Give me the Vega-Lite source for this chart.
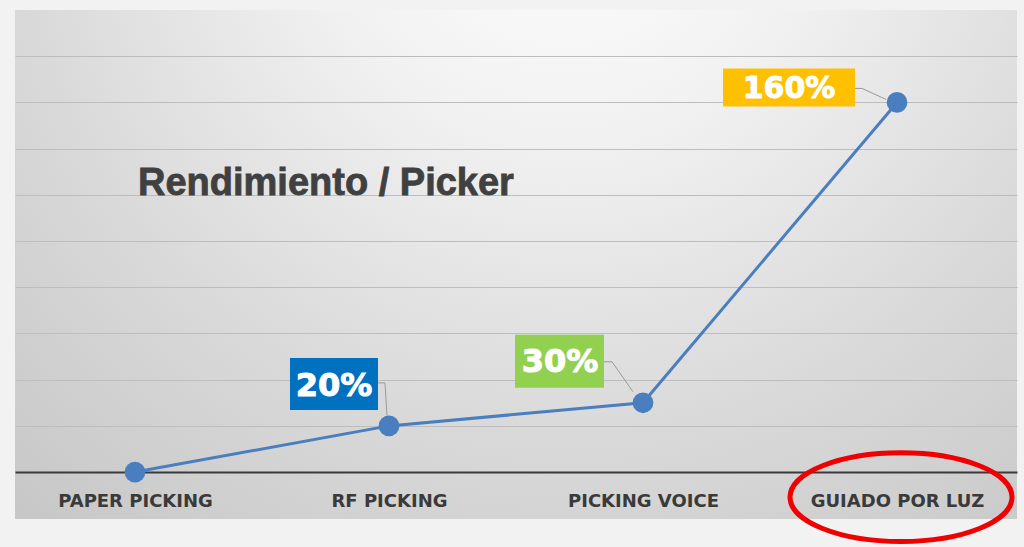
{
  "$schema": "https://vega.github.io/schema/vega-lite/v6.json",
  "width": 1002,
  "height": 509,
  "autosize": {"type": "none"},
  "padding": {"left": 15, "top": 10, "right": 7, "bottom": 28},
  "background": "#f2f2f2",
  "config": {
    "view": {
      "stroke": null,
      "fill": {
        "gradient": "radial",
        "x1": 0.55, "y1": 0.12, "r1": 0,
        "x2": 0.55, "y2": 0.12, "r2": 0.85,
        "stops": [
          {"offset": 0, "color": "#ffffff"},
          {"offset": 0.3, "color": "#f1f1f1"},
          {"offset": 0.65, "color": "#d9d9d9"},
          {"offset": 1, "color": "#c6c6c6"}
        ]
      }
    }
  },
  "data": {
    "values": [
      {"etapa": "PAPER PICKING", "rendimiento": 0, "etiqueta": ""},
      {"etapa": "RF PICKING", "rendimiento": 20, "etiqueta": "20%"},
      {"etapa": "PICKING VOICE", "rendimiento": 30, "etiqueta": "30%"},
      {"etapa": "GUIADO POR LUZ", "rendimiento": 160, "etiqueta": "160%"}
    ]
  },
  "encoding": {
    "x": {
      "field": "etapa",
      "type": "ordinal",
      "sort": null,
      "scale": {"type": "point", "padding": 0.4724},
      "axis": {
        "title": null,
        "offset": -47,
        "domainColor": "#3a3a3a",
        "domainWidth": 2,
        "ticks": false,
        "tickSize": 0,
        "grid": false,
        "labelAngle": 0,
        "labelFont": "DejaVu Sans",
        "labelFontWeight": "bold",
        "labelFontSize": 18,
        "labelColor": "#3a3a3a",
        "labelBaseline": "alphabetic",
        "labelPadding": 34
      }
    },
    "y": {
      "field": "rendimiento",
      "type": "quantitative",
      "scale": {"domain": [-20.3, 200], "nice": false, "zero": false},
      "axis": {
        "title": null,
        "domain": false,
        "ticks": false,
        "labels": false,
        "grid": true,
        "gridColor": "#bdbdbd",
        "gridWidth": 1.2,
        "values": [20, 40, 60, 80, 100, 120, 140, 160, 180]
      }
    }
  },
  "layer": [
    {"mark": {"type": "line", "color": "#4a7ebf", "strokeWidth": 3}},
    {"mark": {"type": "point", "filled": true, "size": 430, "color": "#4a7ebf", "opacity": 1}},
    {
      "transform": [{"filter": "datum.etapa == 'PAPER PICKING'"}],
      "mark": {"type": "text", "align": "left", "baseline": "alphabetic", "font": "Liberation Sans", "fontWeight": "bold", "fontSize": 38, "fill": "#404040", "stroke": "#404040", "strokeWidth": 0.8, "dx": 3},
      "encoding": {
        "y": {"datum": 120},
        "text": {"value": "Rendimiento / Picker"}
      }
    },
    {
      "transform": [{"filter": "datum.etapa == 'RF PICKING'"}],
      "layer": [
        {"mark": {"type": "rule", "color": "#9a9a9a", "strokeWidth": 1, "xOffset": -11, "x2Offset": -4, "yOffset": -43, "y2Offset": -43}, "encoding": {"x2": {"field": "etapa"}, "y2": {"field": "rendimiento"}}},
        {"mark": {"type": "rule", "color": "#9a9a9a", "strokeWidth": 1, "xOffset": -4, "x2Offset": -2, "yOffset": -43, "y2Offset": -10}, "encoding": {"x2": {"field": "etapa"}, "y2": {"field": "rendimiento"}}},
        {"mark": {"type": "rect", "color": "#0070c0", "xOffset": -99, "x2Offset": -11, "yOffset": -68, "y2Offset": -16}, "encoding": {"x2": {"field": "etapa"}, "y2": {"field": "rendimiento"}}},
        {"mark": {"type": "text", "align": "center", "baseline": "alphabetic", "font": "DejaVu Sans", "fontWeight": "bold", "fontSize": 32, "fill": "#ffffff", "stroke": "#ffffff", "strokeWidth": 1, "dx": -55, "dy": -30}, "encoding": {"text": {"field": "etiqueta"}}}
      ]
    },
    {
      "transform": [{"filter": "datum.etapa == 'PICKING VOICE'"}],
      "layer": [
        {"mark": {"type": "rule", "color": "#9a9a9a", "strokeWidth": 1, "xOffset": -39, "x2Offset": -31, "yOffset": -41, "y2Offset": -41}, "encoding": {"x2": {"field": "etapa"}, "y2": {"field": "rendimiento"}}},
        {"mark": {"type": "rule", "color": "#9a9a9a", "strokeWidth": 1, "xOffset": -31, "x2Offset": -10, "yOffset": -41, "y2Offset": -11}, "encoding": {"x2": {"field": "etapa"}, "y2": {"field": "rendimiento"}}},
        {"mark": {"type": "rect", "color": "#92d050", "xOffset": -128, "x2Offset": -39, "yOffset": -68, "y2Offset": -15}, "encoding": {"x2": {"field": "etapa"}, "y2": {"field": "rendimiento"}}},
        {"mark": {"type": "text", "align": "center", "baseline": "alphabetic", "font": "DejaVu Sans", "fontWeight": "bold", "fontSize": 32, "fill": "#ffffff", "stroke": "#ffffff", "strokeWidth": 1, "dx": -83, "dy": -31}, "encoding": {"text": {"field": "etiqueta"}}}
      ]
    },
    {
      "transform": [{"filter": "datum.etapa == 'GUIADO POR LUZ'"}],
      "layer": [
        {"mark": {"type": "rule", "color": "#9a9a9a", "strokeWidth": 1, "xOffset": -42, "x2Offset": -35, "yOffset": -14, "y2Offset": -14}, "encoding": {"x2": {"field": "etapa"}, "y2": {"field": "rendimiento"}}},
        {"mark": {"type": "rule", "color": "#9a9a9a", "strokeWidth": 1, "xOffset": -35, "x2Offset": -11, "yOffset": -14, "y2Offset": -3}, "encoding": {"x2": {"field": "etapa"}, "y2": {"field": "rendimiento"}}},
        {"mark": {"type": "rect", "color": "#ffc000", "xOffset": -174, "x2Offset": -42, "yOffset": -34, "y2Offset": 4}, "encoding": {"x2": {"field": "etapa"}, "y2": {"field": "rendimiento"}}},
        {"mark": {"type": "text", "align": "center", "baseline": "alphabetic", "font": "DejaVu Sans", "fontWeight": "bold", "fontSize": 30, "fill": "#ffffff", "stroke": "#ffffff", "strokeWidth": 1, "dx": -108, "dy": -4}, "encoding": {"text": {"field": "etiqueta"}}},
        {"mark": {"type": "point", "filled": false, "stroke": "#f00000", "strokeWidth": 5, "opacity": 1, "size": 49284, "shape": "M-1,0 A1,0.4 0 1,0 1,0 A1,0.4 0 1,0 -1,0 Z", "xOffset": 4, "yOffset": 25}, "encoding": {"y": {"datum": 0}}}
      ]
    }
  ]
}
